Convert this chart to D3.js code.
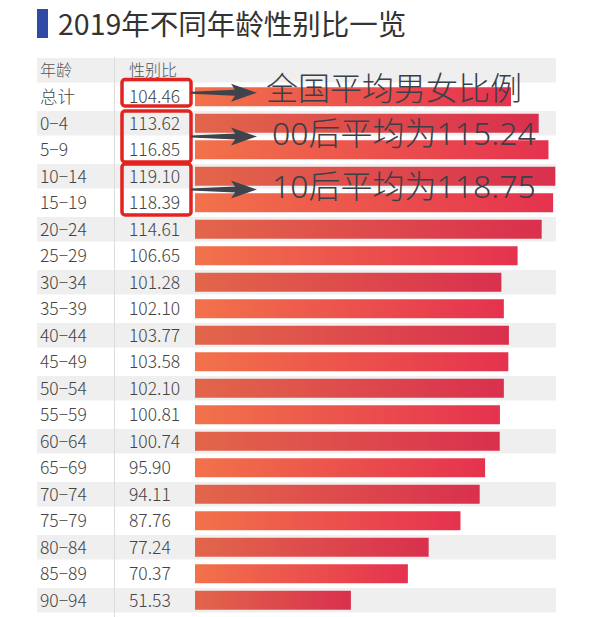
<!DOCTYPE html>
<html>
<head>
<meta charset="utf-8">
<script src="https://cdn.jsdelivr.net/npm/d3@7"></script>
<style>
  body { margin: 0; background: #fff; }
  text { font-family: "Noto Sans", "Noto Sans CJK SC", sans-serif; }
</style>
</head>
<body>
<div id="chart"></div>
<script>
// donnees
var titre = "2019年不同年龄性别比一览";
var enteteAge = "年龄";
var enteteRatio = "性别比";
var ages = ["总计", "0−4", "5−9", "10−14", "15−19", "20−24", "25−29", "30−34",
  "35−39", "40−44", "45−49", "50−54", "55−59", "60−64", "65−69", "70−74",
  "75−79", "80−84", "85−89", "90−94"];
var ratios = [104.46, 113.62, 116.85, 119.10, 118.39, 114.61, 106.65, 101.28,
  102.10, 103.77, 103.58, 102.10, 100.81, 100.74, 95.90, 94.11,
  87.76, 77.24, 70.37, 51.53];
var notes = ["全国平均男女比例", "00后平均为115.24", "10后平均为118.75"];
var noteRows = [["总计"], ["0−4", "5−9"], ["10−14", "15−19"]];

var width = 601;
var height = 617;

var svg = d3.select("#chart")
  .append("svg")
  .attr("width", width)
  .attr("height", height);

// degrades pour les barres
var defs = svg.append("defs");
function degrade(id, c1, c2) {
  var lg = defs.append("linearGradient").attr("id", id)
    .attr("x1", "0%").attr("x2", "100%").attr("y1", "0%").attr("y2", "0%");
  lg.append("stop").attr("offset", "0%").attr("stop-color", c1);
  lg.append("stop").attr("offset", "100%").attr("stop-color", c2);
}
degrade("gradClair", "#f2724a", "#e5324f");
degrade("gradFonce", "#e2664a", "#d9304e");

// titre
svg.append("rect")
  .attr("x", 37).attr("y", 9).attr("width", 11).attr("height", 29)
  .attr("fill", "#2f4ba6");
svg.append("text")
  .attr("x", 58).attr("y", 35)
  .attr("font-size", 28.5)
  .attr("font-weight", 400)
  .attr("fill", "#333")
  .style("font-family", "'Noto Sans CJK SC', sans-serif")
  .text(titre);

// echelles
var lignes = ["entete"].concat(ages);
var y = d3.scaleBand().domain(lignes).range([57, 57 + 26.5 * lignes.length]);
var x = d3.scaleLinear().domain([0, 120]).range([195, 558]);

// bandes grises alternees
svg.selectAll(".bande")
  .data(lignes.filter(function (d, i) { return i % 2 == 0; }))
  .enter()
  .append("rect")
  .attr("class", "bande")
  .attr("x", 37)
  .attr("width", 519)
  .attr("y", function (d) { return y(d) + 1; })
  .attr("height", y.bandwidth() - 2)
  .attr("fill", "#efefef");

// separateur vertical
svg.append("line")
  .attr("x1", 114.5).attr("x2", 114.5)
  .attr("y1", 57).attr("y2", height)
  .attr("stroke", "#dcdcdc").attr("stroke-width", 1);

// entete
var yc = function (d) { return y(d) + y.bandwidth() / 2; };
svg.append("text").attr("x", 40).attr("y", yc("entete")).attr("dy", "0.35em")
  .attr("font-size", 16).attr("fill", "#555").attr("font-weight", 300)
  .style("font-family", "'Noto Sans CJK SC', sans-serif").text(enteteAge);
svg.append("text").attr("x", 129).attr("y", yc("entete")).attr("dy", "0.35em")
  .attr("font-size", 16).attr("fill", "#555").attr("font-weight", 300)
  .style("font-family", "'Noto Sans CJK SC', sans-serif").text(enteteRatio);

var g = svg.selectAll(".ligne")
  .data(ages.map(function (a, i) { return { age: a, ratio: ratios[i], i: i }; }))
  .enter()
  .append("g")
  .attr("class", "ligne");

g.append("rect")
  .attr("x", x(0))
  .attr("y", function (d) { return yc(d.age) - 9.5; })
  .attr("height", 19)
  .attr("width", function (d) { return x(d.ratio) - x(0); })
  .attr("fill", function (d) { return d.i % 2 == 1 ? "url(#gradFonce)" : "url(#gradClair)"; });

g.append("text")
  .attr("x", 40)
  .attr("y", function (d) { return yc(d.age); })
  .attr("dy", "0.36em")
  .attr("font-size", 17.5)
  .attr("font-weight", 300)
  .attr("fill", "#444")
  .style("font-family", "'Noto Sans CJK SC', sans-serif")
  .text(function (d) { return d.age; });

g.append("text")
  .attr("x", 129)
  .attr("y", function (d) { return yc(d.age); })
  .attr("dy", "0.36em")
  .attr("font-size", 17.5)
  .attr("font-weight", 300)
  .attr("fill", "#444")
  .style("font-family", "'Noto Sans CJK SC', sans-serif")
  .text(function (d) { return d.ratio.toFixed(2); });

// annotations : cadres rouges, fleches, textes
noteRows.forEach(function (rows, k) {
  var haut = y(rows[0]) + 1 - (k == 0 ? 5 : 0);
  var bas = y(rows[rows.length - 1]) + y.bandwidth() - (k == 0 ? 4 : 1);
  var milieu = (haut + bas) / 2;

  svg.append("rect")
    .attr("x", 122).attr("y", haut)
    .attr("width", 69).attr("height", bas - haut)
    .attr("rx", 3)
    .attr("fill", "none")
    .attr("stroke", "#e2231f")
    .attr("stroke-width", 3.5);

  var x0 = 191, x1 = 257, xh = 235;
  var fleche = d3.path();
  fleche.moveTo(x0, milieu - 1);
  fleche.lineTo(xh, milieu - 3);
  fleche.lineTo(xh - 4, milieu - 9);
  fleche.lineTo(x1, milieu);
  fleche.lineTo(xh - 4, milieu + 9);
  fleche.lineTo(xh, milieu + 3);
  fleche.lineTo(x0, milieu + 1);
  fleche.closePath();
  svg.append("path").attr("d", fleche.toString()).attr("fill", "#3e434c");

  svg.append("text")
    .attr("x", k == 0 ? 266 : 272)
    .attr("y", milieu - (k == 0 ? 4 : 3))
    .attr("dy", "0.36em")
    .attr("font-size", 32)
    .attr("font-weight", 300)
    .attr("fill", "#3b3f48")
    .style("font-family", k == 0 ? "'Noto Sans CJK SC', sans-serif" : "'Noto Sans', 'Noto Sans CJK SC', sans-serif")
    .text(notes[k]);
});
</script>
</body>
</html>
